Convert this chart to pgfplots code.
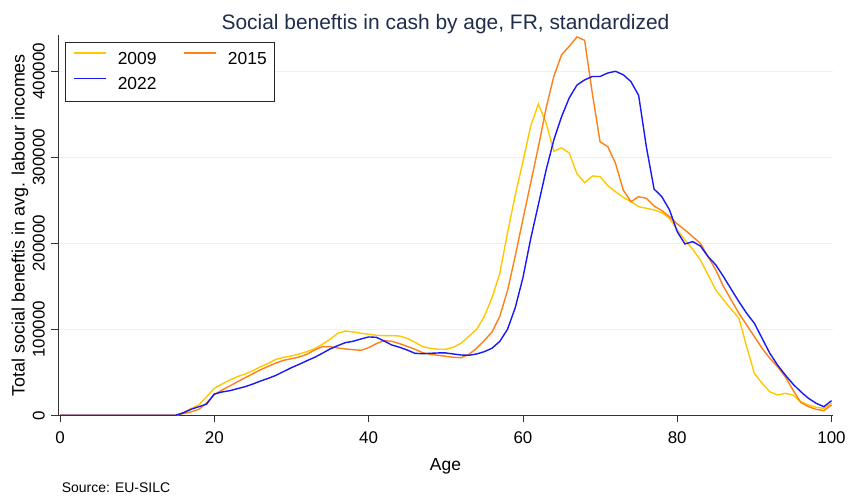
\documentclass[border=0pt]{standalone}
\usepackage{fontspec}
\setmainfont{Liberation Sans}
\usepackage{pgfplots}
\usepackage{pgfplotstable}
\pgfplotsset{compat=1.18}
\definecolor{c09}{RGB}{255,200,0}
\definecolor{c15}{RGB}{255,128,20}
\definecolor{c22}{RGB}{25,25,245}
\definecolor{titlec}{RGB}{30,45,75}
\definecolor{gridc}{RGB}{234,242,243}
\pgfplotstableread{
age y09 y15 y22
0 0 0 0
1 0 0 0
2 0 0 0
3 0 0 0
4 0 0 0
5 0 0 0
6 0 0 0
7 0 0 0
8 0 0 0
9 0 0 0
10 0 0 0
11 0 0 0
12 0 0 0
13 0 0 0
14 0 0 0
15 0 0 0
16 3000 2000 3000
17 8000 4000 7000
18 12000 7000 10000
19 21600 14300 13000
20 31400 24000 24800
21 36400 29400 27100
22 41000 34000 28600
23 45000 39000 31000
24 48000 43700 33300
25 51900 48400 36400
26 56500 53000 39900
27 60400 57000 43000
28 65100 60800 46500
29 67400 64000 51000
30 69000 65800 55400
31 71300 67800 59300
32 74000 70900 63500
33 77500 76000 67400
34 82500 79800 72100
35 88400 79800 77100
36 95400 78300 81000
37 98000 77100 84500
38 96900 76300 86100
39 95400 75600 88700
40 94200 78600 91100
41 93000 83300 90700
42 92600 86800 86400
43 92600 86100 81800
44 92200 83300 79100
45 89500 80200 75900
46 84900 76800 72100
47 79800 72800 71600
48 77900 70900 72100
49 76800 69800 72500
50 76800 68600 72500
51 79100 67400 71300
52 84000 67000 70100
53 92000 70900 69800
54 100000 77900 71300
55 115000 87000 74000
56 137000 97000 78000
57 165000 115000 86000
58 212000 145000 100000
59 256000 185000 125000
60 295000 228000 160000
61 336000 270000 205000
62 362000 312000 245000
63 340000 357000 285000
64 307000 394000 320000
65 311000 419000 347000
66 305000 429000 369000
67 281000 440000 384000
68 270500 436000 390000
69 278300 374000 394000
70 277500 318000 394000
71 267000 312400 398000
72 260000 293000 400000
73 253500 262000 396000
74 248400 248400 388000
75 242600 254200 372000
76 240700 252300 312000
77 238800 243400 263000
78 235600 238000 254200
79 229100 231000 238800
80 215500 222500 213500
81 203900 215500 199200
82 193100 207700 201900
83 180600 200000 196900
84 163200 184500 184500
85 145700 169000 174800
86 134100 149600 161200
87 123300 134100 146500
88 112800 118600 132100
89 79800 105000 118600
90 48800 91400 107000
91 37200 77900 89500
92 27400 66300 72100
93 23600 56500 58500
94 25600 44900 46900
95 23600 29400 36400
96 15800 15100 27500
97 12000 10000 19800
98 9300 7000 14000
99 8100 5400 10000
100 14000 12000 17000
}\data
\begin{document}
\begin{tikzpicture}
\begin{axis}[
  scale only axis, width=775bp, height=380.3bp,
  xmin=-0.26, xmax=100.19, ymin=0, ymax=442200,
  axis lines=left, axis line style={-, line width=0.8bp, color=black!80},
  xtick={0,20,...,100}, ytick={0,100000,200000,300000,400000},
  yticklabels={0,100000,200000,300000,400000},
  scaled y ticks=false,
  tick align=outside, major tick length=7bp,
  tick style={line width=0.8bp, color=black!80},
  ymajorgrids, major grid style={gridc, line width=1bp},
  /pgf/number format/assume math mode=true,
  ticklabel style={font=\fontsize{17}{20}\selectfont, inner sep=0pt},
  yticklabel style={rotate=90, anchor=south},
  xticklabel style={anchor=north},
  xticklabel shift=9.5bp, yticklabel shift=6bp,
  legend columns=2,
  legend cell align=left,
  legend image code/.code={\draw[#1, line width=1.4bp] (0bp,6.2bp) -- (32bp,6.2bp);},
  legend style={at={(axis description cs:0.00903,0.9816)}, anchor=north west,
    draw=black!85, line width=0.8bp, fill=white,
    font=\fontsize{17.5}{20}\selectfont,
    inner xsep=8bp, inner ysep=10bp, row sep=11.5bp,
    nodes={inner sep=0pt},
    /tikz/every odd column/.append style={column sep=11bp},
    /tikz/every even column/.append style={column sep=27bp}},
]
\addplot[c09, line width=1.4bp] table[x=age, y=y09] {\data};
\addlegendentry{2009}
\addplot[c15, line width=1.4bp] table[x=age, y=y15] {\data};
\addlegendentry{2015}
\addplot[c22, line width=1.4bp] table[x=age, y=y22] {\data};
\addlegendentry{2022}
\coordinate (O) at (rel axis cs:0,0);
\end{axis}
\node[font=\fontsize{21}{24}\selectfont, text=titlec, anchor=base] at ([shift={(387.5bp,386bp)}]O) {Social beneftis in cash by age, FR, standardized};
\node[rotate=90, anchor=center, font=\fontsize{18}{20}\selectfont, inner sep=0pt] at ([shift={(-38bp,190bp)}]O) {Total social beneftis in avg. labour incomes};
\node[anchor=base, font=\fontsize{17.5}{20}\selectfont, inner sep=0pt] at ([shift={(387.5bp,-55.4bp)}]O) {Age};
\node[anchor=base west, font=\fontsize{14}{16}\selectfont, inner sep=0pt] at ([shift={(3.7bp,-76.7bp)}]O) {Source: EU-SILC};
\pgfresetboundingbox
\path[use as bounding box] ([shift={(-58bp,-82.7bp)}]O) rectangle ([shift={(791bp,415.3bp)}]O);
\end{tikzpicture}
\end{document}
